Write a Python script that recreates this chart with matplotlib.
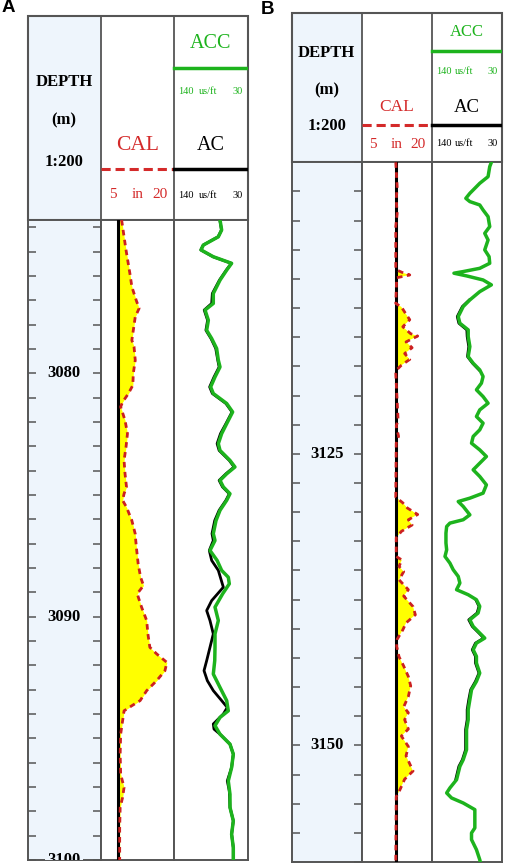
import numpy as np
import matplotlib
matplotlib.use("Agg")
import matplotlib.pyplot as plt
from matplotlib.patches import Rectangle

plt.rcParams['font.family'] = ['Liberation Serif', 'DejaVu Serif']

# ---------------- data: panel A ----------------
depth_a_cal = [3073.7, 3074.25, 3074.93, 3075.9, 3076.44, 3077.0, 3077.33, 3077.68, 3078.23,
               3078.64, 3078.91, 3079.46, 3080.0, 3080.49, 3080.83, 3081.18, 3081.38, 3081.93,
               3082.48, 3083.03, 3083.58, 3084.13, 3084.67, 3084.95, 3085.22, 3085.5, 3086.05,
               3086.6, 3086.87, 3087.28, 3087.83, 3088.38, 3088.72, 3089.06, 3089.61, 3090.16,
               3090.71, 3091.26, 3091.53, 3091.88, 3092.22, 3092.63, 3093.04, 3093.45, 3093.66,
               3093.87, 3094.28, 3094.83, 3095.65, 3096.47, 3097.02, 3097.43, 3097.84, 3098.67,
               3100.0]
cal_a = [9.3, 9.7, 10.2, 11.0, 11.4, 12.3, 12.9, 12.1, 11.7,
         11.4, 11.85, 12.1, 11.7, 11.6, 10.7, 9.5, 9.1, 10.0,
         10.5, 10.2, 9.8, 10.0, 10.3, 9.8, 9.5, 10.3, 11.4,
         12.1, 12.2, 12.4, 12.7, 13.2, 13.8, 12.5, 13.4, 14.45,
         14.7, 15.1, 16.5, 18.6, 18.2, 16.5, 14.45, 13.1, 11.4,
         9.8, 9.5, 9.1, 9.0, 9.1, 9.8, 9.5, 9.0, 8.9,
         8.9]
bit_a = 8.6

depth_a_acc = [3073.7, 3074.11, 3074.39, 3074.73, 3074.93, 3075.21, 3075.48, 3075.76, 3076.17,
               3076.72, 3077.13, 3077.4, 3077.82, 3078.23, 3078.57, 3078.98, 3079.46, 3079.74,
               3080.15, 3080.56, 3080.83, 3081.24, 3081.59, 3082.07, 3082.48, 3082.89, 3083.17,
               3083.58, 3083.85, 3084.13, 3084.4, 3084.67, 3084.95, 3085.22, 3085.63, 3086.05,
               3086.59, 3086.87, 3087.28, 3087.69, 3088.1, 3088.38, 3088.65, 3089.06, 3089.61,
               3090.16, 3090.71, 3091.26, 3091.81, 3092.36, 3092.91, 3093.45, 3093.87, 3094.14,
               3094.48, 3094.83, 3095.24, 3095.65, 3096.2, 3096.75, 3097.3, 3097.84, 3098.39,
               3098.94, 3099.49, 3100.04]
acc_a = [71.7, 69.3, 74.2, 96.3, 99.7, 81.6, 54.6, 61.9, 71.7,
         81.6, 81.6, 93.8, 88.9, 91.4, 84.0, 76.7, 74.2, 71.7,
         79.1, 85.5, 81.6, 61.9, 53.1, 61.9, 69.3, 74.2, 71.7,
         57.0, 49.7, 61.9, 71.7, 66.8, 57.0, 61.9, 71.7, 77.6,
         81.6, 79.1, 86.5, 76.0, 69.3, 59.5, 58.0, 67.8, 79.1,
         74.2, 79.1, 79.1, 79.5, 81.6, 71.7, 61.9, 59.5, 71.7,
         79.1, 71.7, 57.0, 52.1, 54.6, 59.5, 57.0, 57.0, 52.1,
         54.6, 52.1, 52.1]

depth_a_ac = [3073.7, 3074.11, 3074.39, 3074.73, 3074.93, 3075.21, 3075.48, 3075.76, 3076.17,
              3076.72, 3077.13, 3077.4, 3077.82, 3078.23, 3078.57, 3078.98, 3079.46, 3079.74,
              3080.15, 3080.56, 3080.83, 3081.24, 3081.59, 3082.07, 3082.48, 3082.89, 3083.17,
              3083.58, 3083.85, 3084.13, 3084.4, 3084.67, 3084.95, 3085.22, 3085.63, 3086.05,
              3086.59, 3086.87, 3087.28, 3087.69, 3088.1, 3088.79, 3089.34, 3089.75, 3090.16,
              3090.71, 3091.26, 3091.81, 3092.22, 3092.63, 3093.04, 3093.45, 3093.73, 3094.0,
              3094.41, 3094.62, 3094.83, 3095.24, 3095.65, 3096.2, 3096.75, 3097.16, 3097.84,
              3098.39, 3098.94, 3099.49, 3100.04]
ac_a = [72.0, 69.5, 74.5, 96.5, 100.0, 82.0, 55.0, 62.5, 72.5,
        83.0, 84.0, 95.0, 90.0, 92.5, 85.0, 78.0, 75.0, 73.0,
        80.5, 87.0, 83.0, 63.0, 54.0, 63.0, 71.0, 76.0, 73.0,
        58.0, 51.0, 63.0, 73.0, 68.0, 58.0, 63.0, 73.0, 79.5,
        83.5, 81.6, 87.5, 84.0, 74.2, 66.8, 84.0, 91.4, 86.5,
        81.6, 86.5, 91.4, 95.3, 90.4, 81.6, 69.3, 61.0, 66.8,
        81.6, 80.6, 71.7, 57.0, 52.1, 54.6, 61.0, 58.0, 57.0,
        52.1, 54.6, 52.1, 52.1]

# ---------------- data: panel B ----------------
depth_b_cal = [3100.0, 3102.1, 3103.2, 3104.4, 3105.5, 3109.2, 3109.5, 3109.66, 3109.9,
               3112.1, 3112.4, 3112.9, 3113.5, 3114.1, 3114.7, 3114.9, 3115.4, 3115.9,
               3116.4, 3116.9, 3117.4, 3117.8, 3118.1, 3122.1, 3122.6, 3123.5, 3124.1,
               3128.7, 3128.94, 3129.2, 3129.65, 3130.2, 3130.65, 3131.1, 3131.65, 3132.2,
               3133.8, 3134.1, 3134.65, 3135.1, 3135.8, 3136.65, 3137.2, 3138.1, 3138.8,
               3139.5, 3140.1, 3140.9, 3141.5, 3142.4, 3143.2, 3144.1, 3144.9, 3145.8,
               3146.7, 3147.2, 3147.8, 3148.6, 3149.2, 3150.1, 3150.9, 3151.5, 3152.2,
               3152.9, 3153.8, 3154.4, 3160.0]
cal_b = [12.3, 12.6, 12.4, 12.6, 12.3, 12.3, 14.0, 15.3, 12.5,
         12.3, 13.5, 14.3, 15.3, 13.8, 15.5, 17.0, 14.5, 15.8,
         14.2, 15.3, 13.5, 12.5, 12.3, 12.8, 12.4, 12.9, 12.4,
         12.3, 13.0, 13.8, 14.8, 17.0, 15.0, 15.8, 13.5, 12.4,
         12.4, 13.6, 13.0, 14.0, 13.0, 15.0, 14.0, 16.0, 16.5,
         14.5, 13.8, 12.6, 12.5, 13.0, 14.0, 15.0, 15.5, 15.0,
         14.0, 15.0, 14.2, 15.0, 13.5, 15.0, 14.5, 15.2, 16.0,
         14.2, 13.2, 12.4, 12.3]
bit_b = 12.3

depth_b_acc = [3100.0, 3100.37, 3101.23, 3101.8, 3102.09, 3102.66, 3103.09, 3103.37, 3103.66,
               3104.09, 3104.66, 3105.51, 3106.09, 3106.66, 3107.51, 3108.09, 3108.66, 3109.09,
               3109.37, 3109.51, 3109.74, 3110.09, 3110.51, 3111.09, 3111.8, 3112.37, 3113.23,
               3113.8, 3114.37, 3114.94, 3115.8, 3116.66, 3117.23, 3117.8, 3118.37, 3118.94,
               3119.51, 3120.09, 3120.66, 3121.23, 3121.8, 3122.37, 3122.94, 3123.51, 3124.09,
               3124.66, 3125.23, 3125.8, 3126.37, 3126.94, 3127.66, 3128.37, 3128.8, 3129.09,
               3129.51, 3130.23, 3130.65, 3130.94, 3131.23, 3131.8, 3132.65, 3133.23, 3133.8,
               3134.37, 3134.94, 3135.51, 3136.08, 3136.65, 3137.08, 3137.51, 3138.08, 3138.65,
               3139.23, 3139.8, 3140.37, 3140.8, 3141.23, 3141.8, 3142.37, 3142.94, 3143.8,
               3144.51, 3145.23, 3146.08, 3146.94, 3147.8, 3148.65, 3149.51, 3150.37, 3151.23,
               3151.8, 3152.37, 3152.94, 3153.65, 3154.08, 3154.51, 3154.94, 3155.51, 3156.23,
               3157.08, 3157.51, 3158.08, 3158.94, 3159.8, 3160.0]
acc_b = [46.6, 49.2, 51.8, 64.8, 70.0, 80.3, 86.6, 80.3, 64.8,
         59.6, 51.8, 49.2, 57.0, 51.8, 57.0, 50.2, 49.2, 64.8,
         90.7, 105.2, 85.5, 59.6, 46.6, 64.8, 80.3, 90.7, 98.5,
         95.9, 82.9, 82.9, 80.3, 82.9, 75.1, 64.8, 59.6, 62.2,
         70.0, 59.6, 51.8, 64.8, 70.0, 59.6, 64.8, 75.1, 77.7,
         64.8, 54.4, 64.8, 75.1, 64.8, 54.4, 59.6, 80.3, 98.5,
         90.7, 80.3, 90.7, 111.5, 116.6, 117.7, 117.7, 116.6, 119.2,
         111.5, 106.3, 98.5, 95.9, 101.1, 82.9, 70.0, 64.8, 67.4,
         80.3, 75.1, 64.8, 57.0, 70.0, 75.1, 70.0, 70.0, 64.8,
         70.0, 77.7, 80.3, 82.9, 82.9, 85.5, 85.5, 85.5, 90.7,
         95.9, 98.5, 101.1, 111.5, 116.6, 108.9, 90.7, 72.5, 72.5,
         72.5, 77.7, 77.7, 70.0, 64.8, 64.0]

depth_b_ac = [3111.8, 3112.37, 3113.23, 3113.8, 3114.37, 3114.94, 3115.8, 3116.66, 3117.23,
              3117.8, np.nan, 3137.51, 3138.08, 3138.65, 3139.23, 3139.8, 3140.37, 3140.8,
              3141.23, 3141.8, 3142.37, 3142.94, 3143.8, 3144.51, 3145.23, 3146.08, 3146.94,
              3147.8, 3148.65, 3149.51, 3150.37, 3151.23, 3151.8, 3152.37, 3152.94]
ac_b = [81.0, 92.0, 100.0, 97.5, 85.0, 84.5, 82.0, 84.0, 76.0,
        66.0, np.nan, 71.0, 66.0, 69.0, 82.0, 76.5, 66.0, 58.5,
        71.5, 76.5, 71.5, 71.5, 66.0, 71.5, 79.0, 82.0, 84.5,
        84.5, 87.0, 87.0, 87.0, 92.0, 97.5, 100.0, 102.5]

# ---------------- layout helpers (pixels) ----------------
W, H = 505, 866
EDGE = '#555555'
RED = '#d42a2a'
GREEN = '#1db31d'
DEPTH_BG = '#eef5fc'

fig = plt.figure(figsize=(W / 100, H / 100), dpi=100)


def box(x0, y0, x1, y1):
    return [x0 / W, 1 - y1 / H, (x1 - x0) / W, (y1 - y0) / H]


def draw_panel(letter, letter_xy, cols, ht, hb, db, dtop, dbot, major, minor, lab_sizes,
               dcal, cal, bit, dacc, acc, dac, ac, y_pos):
    x0, x1, x2, x3 = cols
    fs_cal, fs_acc, fs_ac = lab_sizes
    yd, ym, yr, y_acc, y_gl, y_gsc, y_cal, y_line, y_sc = y_pos

    # ---- header ----
    hx = fig.add_axes(box(x0, ht, x3, hb))
    hx.set_xlim(x0, x3)
    hx.set_ylim(hb, ht)
    hx.axis('off')
    hx.add_patch(Rectangle((x0, ht), x1 - x0, hb - ht, facecolor=DEPTH_BG, edgecolor='none'))
    hx.add_patch(Rectangle((x0, ht), x3 - x0, hb - ht, facecolor='none', edgecolor=EDGE,
                           lw=1.5, clip_on=False))
    hx.plot([x1, x1], [ht, hb], color=EDGE, lw=1.3)
    hx.plot([x2, x2], [ht, hb], color=EDGE, lw=1.3)
    xc = (x0 + x1) / 2
    for txt, yy in [('DEPTH', yd), ('(m)', ym), ('1:200', yr)]:
        hx.text(xc, yy, txt, ha='center', va='center', fontsize=12, fontweight='bold')
    cc = (x1 + x2) / 2
    ac_c = (x2 + x3) / 2
    hx.text(cc, y_cal, 'CAL', ha='center', va='center', fontsize=fs_cal, color=RED)
    hx.plot([x1, x2], [y_line, y_line], color=RED, lw=2.2, ls=(0, (3, 1.6)))
    wc = x2 - x1
    hx.text(x1 + 0.16 * wc, y_sc, '5', ha='center', va='center', fontsize=11, color=RED)
    hx.text(x1 + 0.50 * wc, y_sc, 'in', ha='center', va='center', fontsize=11, color=RED)
    hx.text(x1 + 0.81 * wc, y_sc, '20', ha='center', va='center', fontsize=11, color=RED)

    hx.text(ac_c, y_acc, 'ACC', ha='center', va='center', fontsize=fs_acc, color=GREEN)
    hx.plot([x2, x3], [y_gl, y_gl], color=GREEN, lw=2.5)
    hx.text(ac_c, y_cal, 'AC', ha='center', va='center', fontsize=fs_ac, color='black')
    hx.plot([x2, x3], [y_line, y_line], color='black', lw=2.5)
    wa = x3 - x2
    for yy, col in [(y_gsc, GREEN), (y_sc, 'black')]:
        hx.text(x2 + 0.17 * wa, yy, '140', ha='center', va='center', fontsize=7.5, color=col)
        hx.text(x2 + 0.46 * wa, yy, 'us/ft', ha='center', va='center', fontsize=7.5, color=col)
        hx.text(x2 + 0.86 * wa, yy, '30', ha='center', va='center', fontsize=7.5, color=col)

    # ---- data tracks ----
    axd = fig.add_axes(box(x0, hb, x1, db))
    axc = fig.add_axes(box(x1, hb, x2, db), sharey=axd)
    axa = fig.add_axes(box(x2, hb, x3, db), sharey=axd)
    axd.set_ylim(dbot, dtop)
    axd.set_facecolor(DEPTH_BG)
    axd.set_xlim(0, 1)
    axd.set_xticks([])
    axd.set_yticks(np.arange(np.ceil(dtop / minor) * minor, dbot + 0.01, minor))
    axd.tick_params(axis='y', which='both', direction='in', length=6, width=1.1,
                    color=EDGE, left=True, right=True, labelleft=False)
    for d in np.arange(np.ceil(dtop / major) * major, dbot + 0.01, major):
        if d - dtop < 1:
            continue
        axd.text(0.5, d, '%d' % d, ha='center', va='center', fontsize=12,
                 fontweight='bold', clip_on=True,
                 bbox=dict(facecolor=DEPTH_BG, edgecolor='none', pad=1.5))

    axc.set_xlim(5, 20)
    axc.axvline(bit, color='black', lw=2.2, zorder=3)
    dc = np.array(dcal)
    cv = np.array(cal)
    axc.fill_betweenx(dc, bit, cv, where=cv > bit, interpolate=True,
                      color='#ffff00', lw=0, zorder=1)
    axc.plot(cv, dc, color='#cc2020', lw=2.0, ls=(0, (2, 1.6)), zorder=4)

    axa.set_xlim(140, 30)
    axa.plot(ac, dac, color='black', lw=2.0, zorder=2)
    axa.plot(acc, dacc, color=GREEN, lw=2.5, zorder=3)

    for ax in (axd, axc, axa):
        for s in ax.spines.values():
            s.set_color(EDGE)
            s.set_linewidth(1.4)
    for ax in (axc, axa):
        ax.set_xticks([])
        ax.tick_params(axis='y', which='both', left=False, right=False, labelleft=False)

    fig.text(letter_xy[0] / W, 1 - letter_xy[1] / H, letter, ha='center', va='center',
             fontsize=13.5, fontweight='bold', family='Liberation Sans')


draw_panel('A', (8, 8), [27.5, 100.7, 173.7, 248.3], 16, 220, 860, 3073.7, 3100.0, 10, 1,
           (15.5, 14.5, 14.5), depth_a_cal, cal_a, bit_a, depth_a_acc, acc_a,
           depth_a_ac, ac_a, (82, 120, 162, 43, 68, 92, 145, 169, 195))
draw_panel('B', (267.5, 9), [291.7, 361.7, 431.7, 502.0], 13.3, 162.3, 862, 3100.0, 3160.0,
           25, 2.5, (12.5, 12, 13.5), depth_b_cal, cal_b, bit_b, depth_b_acc, acc_b,
           depth_b_ac, ac_b, (53, 90, 126, 32, 51, 71, 107, 125, 144))

fig.savefig('out.png', dpi=100)
